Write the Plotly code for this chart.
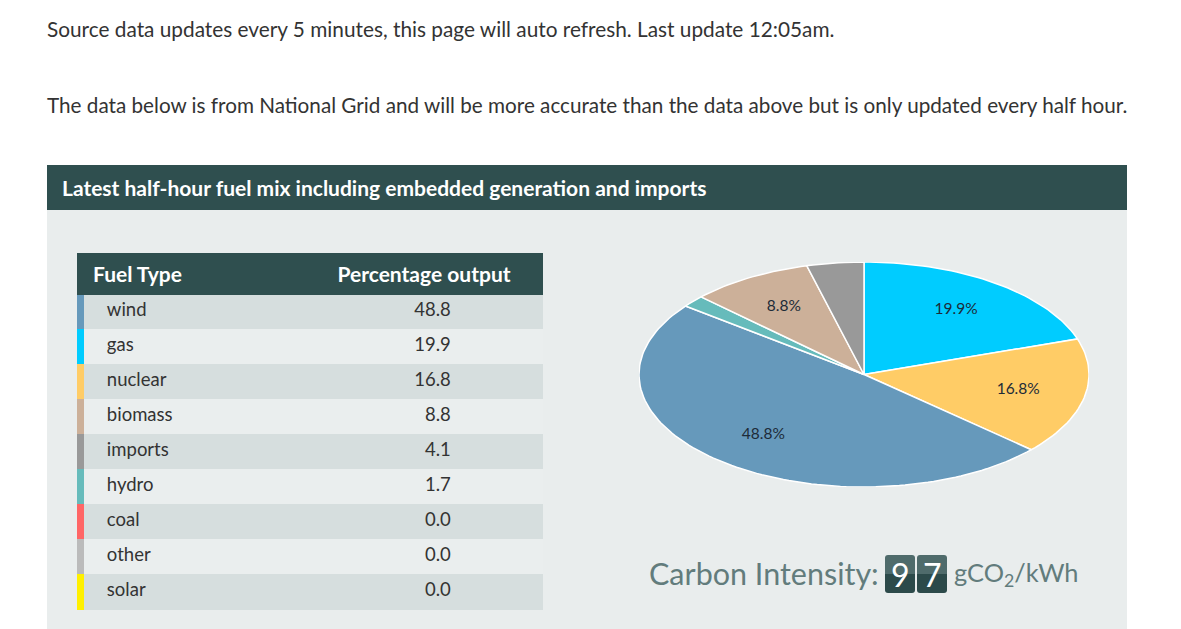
import numpy as np
import plotly.graph_objects as go

W, H = 1181, 629

# table data (sorted as on the page)
fuels = ["wind", "gas", "nuclear", "biomass", "imports", "hydro", "coal", "other", "solar"]
percent = [48.8, 19.9, 16.8, 8.8, 4.1, 1.7, 0.0, 0.0, 0.0]
fuel_colours = ["#6699bb", "#00ccff", "#ffcc66", "#ccb099", "#999999",
                "#66bbbb", "#ff6666", "#bbbbbb", "#fff000"]

# pie runs clockwise from 12 o'clock in this order
pie_order = ["gas", "nuclear", "wind", "hydro", "biomass", "imports"]

carbon_intensity = 97
last_update = "12:05am"

DARK = "#2f4f4f"
PANEL = "#e9eded"
ROW_DARK = "#d6dede"
ROW_LIGHT = "#eaeeee"
TEXT = "#333333"
GREY_TEAL = "#627c7c"
FONT = "Lato"


def px(x):
    return x / W


def py(y):
    return 1 - y / H


def half_box(x0, x1, y0, y1, r, top):
    # rounded on the top corners (top=True) or on the bottom corners, pixel coords in
    if top:
        pts = (f"M {px(x0)},{py(y1)} L {px(x0)},{py(y0 + r)} Q {px(x0)},{py(y0)} {px(x0 + r)},{py(y0)} "
               f"L {px(x1 - r)},{py(y0)} Q {px(x1)},{py(y0)} {px(x1)},{py(y0 + r)} L {px(x1)},{py(y1)} Z")
    else:
        pts = (f"M {px(x0)},{py(y0)} L {px(x1)},{py(y0)} L {px(x1)},{py(y1 - r)} "
               f"Q {px(x1)},{py(y1)} {px(x1 - r)},{py(y1)} L {px(x0 + r)},{py(y1)} "
               f"Q {px(x0)},{py(y1)} {px(x0)},{py(y1 - r)} Z")
    return pts


fig = go.Figure()

# --- pie (elliptical, so drawn as filled wedges on stretched axes) ---
share = dict(zip(fuels, percent))
colour = dict(zip(fuels, fuel_colours))
total = sum(share[f] for f in pie_order)
start = 0.0
lab_x, lab_y, lab_t = [], [], []
for f in pie_order:
    frac = share[f] / total
    theta = 2 * np.pi * np.linspace(start, start + frac, max(int(frac * 240), 2) + 1)
    xs = np.concatenate([[0], np.sin(theta), [0]])
    ys = np.concatenate([[0], np.cos(theta), [0]])
    fig.add_trace(go.Scatter(
        x=xs, y=ys, fill="toself", fillcolor=colour[f], mode="lines",
        line=dict(color="white", width=1.5), hoverinfo="skip", showlegend=False))
    if share[f] >= 5:
        mid = 2 * np.pi * (start + frac / 2)
        lab_x.append(0.7 * np.sin(mid))
        lab_y.append(0.7 * np.cos(mid))
        lab_t.append(f"{share[f]:.1f}%")
    start += frac

fig.add_trace(go.Scatter(
    x=lab_x, y=lab_y, text=lab_t, mode="text", hoverinfo="skip", showlegend=False,
    textfont=dict(family=FONT, size=15.5, color="#1d2b38")))

# --- table ---
row_fill = [ROW_DARK if i % 2 == 0 else ROW_LIGHT for i in range(len(fuels))]
fig.add_trace(go.Table(
    domain=dict(x=[px(77), px(543)], y=[py(614), py(253)]),
    columnwidth=[8, 245, 213],
    header=dict(
        values=["", "<b>Fuel Type</b>", "<b>Percentage output</b>"],
        fill_color=DARK, line=dict(width=1, color=DARK), align="left", height=39,
        font=dict(family=FONT, size=21, color="white")),
    cells=dict(
        values=[[""] * len(fuels),
                ["\u2003" + f for f in fuels],
                [f"{v:.1f}" + "\u2003" * 6 for v in percent]],
        fill_color=[fuel_colours, row_fill, row_fill],
        line=dict(width=1, color=[fuel_colours, row_fill, row_fill]),
        align=["left", "left", "right"], height=35,
        font=dict(family=FONT, size=18.5, color=TEXT)),
))

# --- page furniture ---
shapes = [
    dict(type="rect", xref="paper", yref="paper", x0=px(47), x1=px(1127), y0=py(165), y1=py(210),
         fillcolor=DARK, line_width=0, layer="below"),
    dict(type="rect", xref="paper", yref="paper", x0=px(47), x1=px(1127), y0=py(210), y1=py(640),
         fillcolor=PANEL, line_width=0, layer="below"),
]

annotations = [
    dict(text=f"Source data updates every 5 minutes, this page will auto refresh. Last update {last_update}.",
         x=px(45), y=py(29), xanchor="left", yanchor="middle", font=dict(family=FONT, size=20.8, color=TEXT)),
    dict(text="The data below is from National Grid and will be more accurate than the data above "
              "but is only updated every half hour.",
         x=px(45), y=py(105), xanchor="left", yanchor="middle", font=dict(family=FONT, size=20.7, color=TEXT)),
    dict(text="<b>Latest half-hour fuel mix including embedded generation and imports</b>",
         x=px(60), y=py(187), xanchor="left", yanchor="middle", font=dict(family=FONT, size=21, color="white")),
    dict(text="Carbon Intensity:", x=px(647), y=py(573), xanchor="left", yanchor="middle",
         font=dict(family=FONT, size=30.5, color=GREY_TEAL)),
    dict(text="gCO<sub>2</sub>/kWh", x=px(952), y=py(574), xanchor="left", yanchor="middle",
         font=dict(family=FONT, size=25.4, color=GREY_TEAL)),
]

# flip-counter style digit boxes
box_left = 885
for d in str(carbon_intensity):
    x0, x1 = box_left, box_left + 30
    shapes.append(dict(type="path", xref="paper", yref="paper", path=half_box(x0, x1, 574, 593, 3, False),
                       fillcolor="#2c4a4a", line_width=0))
    shapes.append(dict(type="path", xref="paper", yref="paper", path=half_box(x0, x1, 555, 574, 3, True),
                       fillcolor="#4f6b6b", line_width=0))
    annotations.append(dict(text=d, x=px((x0 + x1) / 2), y=py(574), xanchor="center", yanchor="middle",
                            font=dict(family=FONT, size=32, color="white")))
    box_left += 32

for a in annotations:
    a.update(xref="paper", yref="paper", showarrow=False)

fig.update_layout(
    width=W, height=H, margin=dict(l=0, r=0, t=0, b=0),
    paper_bgcolor="white", plot_bgcolor="rgba(0,0,0,0)",
    xaxis=dict(domain=[px(639), px(1089)], range=[-1, 1], visible=False, fixedrange=True),
    yaxis=dict(domain=[py(487), py(262)], range=[-1, 1], visible=False, fixedrange=True),
    shapes=shapes, annotations=annotations, showlegend=False,
)

fig.write_html("out.html", config=dict(displayModeBar=False),
               post_script="document.body.style.margin='0';document.body.style.overflow='hidden';")
